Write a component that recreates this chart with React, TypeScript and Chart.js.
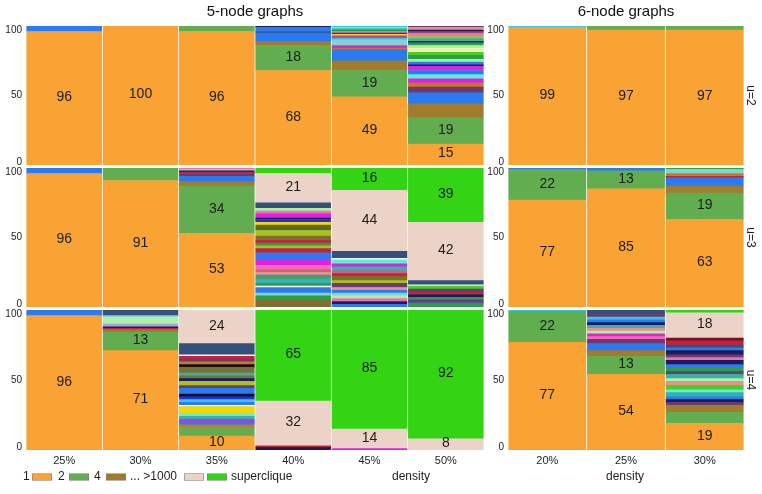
import React, { useEffect, useRef } from 'react';
import { Chart, registerables } from 'chart.js';

Chart.register(...registerables);

type Seg = [string, number]; // [cluster-count class, percent of graphs]

const FONT = "'Liberation Sans', Arial, Helvetica, sans-serif";

// ---------- categories / labels ----------
const CATS_5 = ['25%', '30%', '35%', '40%', '45%', '50%'];
const CATS_6 = ['20%', '25%', '30%'];
const Y_TICKS = [0, 50, 100];
const PANEL_TITLES = ['5-node graphs', '6-node graphs'];
const ROW_LABELS = ['u=2', 'u=3', 'u=4'];
const X_TITLE = 'density';
const LEGEND_KEYS = ['1', '2', '4', '>1000', 'superclique'];
const LEGEND_TEXT = ['1', '2', '4', '... >1000', 'superclique'];
const LABELLED_KEYS = ['1', '2', '>1000', 'superclique'];

// ---------- data: each bar is a list of segments, bottom to top ----------
const U2_N5: Seg[][] = [
  [['1', 96], ['3', 4]],
  [['1', 100]],
  [['1', 96], ['2', 4]],
  [['1', 68], ['2', 18], ['4', 3], ['3', 6], ['navy', 1], ['3', 3], ['dnavy', 1]],
  [['1', 49], ['2', 19], ['4', 7], ['3', 8], ['obrown', 1], ['magenta', 2], ['lteal', 3], ['lblue', 1], ['cyan', 1], ['green', 1], ['magenta', 1], ['yellow', 1], ['dblue', 1], ['pink', 1], ['green', 1], ['teal', 1], ['aqua', 1], ['cyan', 1]],
  [['1', 15], ['2', 19], ['4', 10], ['3', 8], ['purple', 4], ['obrown', 3], ['magenta', 3], ['aqua', 3], ['3', 3], ['magenta', 3], ['dnavy', 1], ['3', 2], ['lgreen', 2], ['green', 3], ['bgreen', 2], ['pyellow', 3], ['lgreen', 2], ['green', 2], ['dnavy', 1], ['teal', 2], ['ygreen', 2], ['pink', 2], ['purple', 1], ['dnavy', 1], ['salmon', 2], ['purple', 1]],
];

const U3_N5: Seg[][] = [
  [['1', 96], ['3', 4]],
  [['1', 91], ['2', 9]],
  [['1', 53], ['2', 34], ['4', 3], ['3', 4], ['purple', 2], ['red', 1], ['dnavy', 1], ['lteal', 1], ['pink', 1]],
  [['olive', 5], ['green', 3], ['lteal', 2], ['3', 4], ['white', 1], ['green', 2], ['teal', 3], ['sea', 3], ['salmon', 2], ['rose', 2], ['pink', 3], ['magenta', 4], ['3', 5], ['red', 3], ['ygreen', 2], ['green', 2], ['red', 2], ['olive', 3], ['ygreen', 4], ['dolive', 4], ['yellow', 2], ['dblue', 2], ['dnavy', 1], ['magenta', 3], ['pink', 2], ['lgreen', 2], ['navy', 4], ['>1000', 21], ['superclique', 4]],
  [['3', 2], ['dnavy', 2], ['pink', 2], ['lgreen', 2], ['lteal', 2], ['3', 2], ['salmon', 2], ['purple', 3], ['ygreen', 2], ['olive', 3], ['red', 2], ['rose', 2], ['teal', 3], ['magenta', 2], ['aqua', 3], ['white', 1], ['navy', 5], ['>1000', 44], ['superclique', 16]],
  [['green', 2], ['3', 1], ['purple', 2], ['green', 2], ['dnavy', 2], ['red', 2], ['purple', 2], ['bgreen', 2], ['white', 1], ['navy', 3], ['>1000', 42], ['superclique', 39]],
];

const U4_N5: Seg[][] = [
  [['1', 96], ['3', 4]],
  [['1', 71], ['2', 13], ['4', 2], ['red', 1], ['dnavy', 1], ['lav', 2], ['lgreen', 5], ['lblue', 1], ['navy', 4]],
  [['1', 10], ['2', 6], ['obrown', 2], ['3', 2], ['magenta', 2], ['teal', 2], ['aqua', 2], ['yellow', 5], ['white', 1], ['3', 2], ['cyan', 2], ['dblue', 2], ['black', 2], ['3', 4], ['purple', 2], ['ygreen', 3], ['dnavy', 2], ['olive', 2], ['teal', 2], ['olive', 4], ['black', 2], ['obrown', 2], ['purple', 2], ['red', 2], ['white', 1], ['navy', 8], ['>1000', 24]],
  [['dnavy', 2], ['red', 1], ['>1000', 32], ['superclique', 65]],
  [['magenta', 1], ['>1000', 14], ['superclique', 85]],
  [['>1000', 8], ['superclique', 92]],
];

const U2_N6: Seg[][] = [
  [['1', 99], ['cyan', 1]],
  [['1', 97], ['2', 3]],
  [['1', 97], ['2', 3]],
];

const U3_N6: Seg[][] = [
  [['1', 77], ['2', 22], ['3', 1]],
  [['1', 85], ['2', 13], ['3', 2]],
  [['1', 63], ['2', 19], ['4', 5], ['3', 6], ['red', 1], ['obrown', 2], ['lteal', 3], ['green', 1]],
];

const U4_N6: Seg[][] = [
  [['1', 77], ['2', 22], ['cyan', 1]],
  [['1', 54], ['2', 13], ['4', 4], ['3', 5], ['purple', 3], ['pink', 2], ['magenta', 2], ['lgreen', 2], ['salmon', 2], ['teal', 2], ['dnavy', 2], ['3', 2], ['cyan', 2], ['purple', 2], ['navy', 3]],
  [['1', 19], ['2', 8], ['4', 5], ['purple', 2], ['dnavy', 2], ['3', 2], ['teal', 3], ['aqua', 2], ['bgreen', 3], ['salmon', 3], ['lgreen', 2], ['teal', 3], ['purple', 2], ['green', 3], ['3', 2], ['dnavy', 3], ['pink', 2], ['purple', 2], ['dnavy', 3], ['3', 2], ['navy', 2], ['red', 3], ['maroon', 2], ['>1000', 18], ['superclique', 2]],
];

// ---------- styles ----------
const COLORS: Record<string, string> = {
  '1': '#F9A334', '2': '#61AD50', '3': '#2A7BF2', '4': '#A17C2C', '>1000': '#ECD3C7', superclique: '#33D414',
  navy: '#34507C', dnavy: '#1C1C5C', purple: '#6B3B6E', magenta: '#E022E0', pink: '#F06EB0', red: '#C8203C',
  salmon: '#E8908A', rose: '#D06080', teal: '#3AAFB0', aqua: '#5EF0D6', lteal: '#7FD6CE', cyan: '#33C9E8',
  lblue: '#8CC8F0', lgreen: '#A8F2A0', green: '#2E9E40', bgreen: '#44D022', ygreen: '#A8C020', yellow: '#F0D800',
  pyellow: '#F2F0B4', olive: '#7A7030', dolive: '#5A6A22', obrown: '#C87A20', black: '#121222', white: '#F6F6F6',
  lav: '#A4A4E4', maroon: '#701424', sea: '#3FA07E', dblue: '#2032E0',
};
const TEXT = '#1e1e1e';

// ---------- layout ----------
const COLS = [
  { x: 0, w: 490, padL: 26, padR: 6 },
  { x: 486, w: 276, padL: 22, padR: 18 },
];
const ROWS = [
  { y: 0, h: 171, padT: 0, padB: 6 },
  { y: 162, h: 151, padT: 6, padB: 6 },
  { y: 304, h: 190, padT: 6, padB: 24 },
];
const DATA = [
  [U2_N5, U2_N6],
  [U3_N5, U3_N6],
  [U4_N5, U4_N6],
];

interface Spec {
  row: number;
  col: number;
  cats: string[];
  bars: Seg[][];
}

function facetPlugin(spec: Spec) {
  const col = COLS[spec.col];
  const row = ROWS[spec.row];
  return {
    id: 'facetText' + spec.row + spec.col,
    afterDraw(chart: any) {
      const ctx = chart.ctx as CanvasRenderingContext2D;
      const area = chart.chartArea;
      const yScale = chart.scales.y;
      ctx.save();
      ctx.fillStyle = TEXT;
      // y tick labels
      ctx.font = `10px ${FONT}`;
      ctx.textAlign = 'right';
      ctx.textBaseline = 'middle';
      Y_TICKS.forEach((v) => {
        const off = v === 100 ? 4 : v === 0 ? -3 : 0;
        ctx.fillText(String(v), area.left - 4, yScale.getPixelForValue(v) + off);
      });
      // value labels inside segments
      ctx.font = `14px ${FONT}`;
      ctx.textAlign = 'center';
      chart.data.datasets.forEach((ds: any, i: number) => {
        const meta = chart.getDatasetMeta(i);
        meta.data.forEach((el: any, j: number) => {
          const v = ds.data[j];
          const k = ds.keys[j];
          if (v == null || !LABELLED_KEYS.includes(k)) return;
          if (!(v >= 10 || (k === '>1000' && v >= 5))) return;
          ctx.fillText(String(v), el.x, (el.y + el.base) / 2 - 1);
        });
      });
      // strip label on the right
      if (spec.col === 1) {
        ctx.font = `12px ${FONT}`;
        ctx.save();
        ctx.translate(750 - col.x, (area.top + area.bottom) / 2);
        ctx.rotate(Math.PI / 2);
        ctx.textAlign = 'center';
        ctx.textBaseline = 'middle';
        ctx.fillText(ROW_LABELS[spec.row], 0, 0);
        ctx.restore();
      }
      // bottom texts: axis title and legend
      if (spec.row === 2) {
        const yy = 477 - row.y;
        ctx.font = `12px ${FONT}`;
        ctx.textBaseline = 'middle';
        ctx.textAlign = 'center';
        ctx.fillText(X_TITLE, (spec.col === 0 ? 411 : 625) - col.x, yy);
        if (spec.col === 0) {
          const textX = [23, 58, 94, 130, 231];
          const swX = [32, 69, 106, 184, 207];
          ctx.textAlign = 'left';
          LEGEND_KEYS.forEach((k, i) => {
            ctx.fillStyle = TEXT;
            ctx.fillText(LEGEND_TEXT[i], textX[i], yy);
            ctx.fillStyle = COLORS[k];
            ctx.fillRect(swX[i], yy - 3, 20, 6);
            ctx.strokeStyle = 'rgba(120,120,120,0.55)';
            ctx.lineWidth = 1;
            ctx.strokeRect(swX[i] + 0.5, yy - 3.5, 19, 7);
          });
        }
      }
      ctx.restore();
    },
  };
}

function Facet({ spec }: { spec: Spec }) {
  const ref = useRef<HTMLCanvasElement>(null);
  const col = COLS[spec.col];
  const row = ROWS[spec.row];
  useEffect(() => {
    const canvas = ref.current;
    if (!canvas) return;
    const { bars, cats } = spec;
    const n = Math.max(...bars.map((b) => b.length));
    const datasets: any[] = [];
    for (let i = 0; i < n; i++) {
      datasets.push({
        data: bars.map((b) => (b[i] ? b[i][1] : null)),
        keys: bars.map((b) => (b[i] ? b[i][0] : null)),
        backgroundColor: bars.map((b) => (b[i] ? COLORS[b[i][0]] : 'rgba(0,0,0,0)')),
        borderWidth: 0,
        barPercentage: 0.982,
        categoryPercentage: 1,
        inflateAmount: 0.3,
      });
    }
    const showX = spec.row === 2;
    const chart = new Chart(canvas, {
      type: 'bar',
      data: { labels: cats, datasets },
      options: {
        responsive: false,
        animation: false,
        events: [],
        devicePixelRatio: 1,
        layout: { padding: { left: col.padL, right: col.padR, top: row.padT, bottom: row.padB } },
        plugins: {
          legend: { display: false },
          tooltip: { enabled: false },
          title: spec.row === 0
            ? {
                display: true,
                text: PANEL_TITLES[spec.col],
                fullSize: false,
                color: '#111',
                font: { family: FONT, size: 15, weight: 'normal' },
                padding: { top: 3, bottom: 5 },
              }
            : { display: false },
        },
        scales: {
          x: {
            stacked: true,
            display: showX,
            grid: { display: false, drawTicks: false },
            border: { display: false },
            ticks: { font: { family: FONT, size: 11 }, color: TEXT, padding: 4, maxRotation: 0, autoSkip: false },
            afterFit: (s: any) => { s.height = showX ? 20 : 0; },
          },
          y: { stacked: true, min: 0, max: 100, display: false },
        },
      } as any,
      plugins: [facetPlugin(spec)],
    });
    return () => chart.destroy();
  }, []);
  return (
    <canvas
      ref={ref}
      width={col.w}
      height={row.h}
      style={{ position: 'absolute', left: col.x, top: row.y, width: col.w, height: row.h, display: 'block' }}
    />
  );
}

export default function App() {
  const specs: Spec[] = [];
  for (let r = 0; r < 3; r++) {
    for (let c = 0; c < 2; c++) {
      specs.push({ row: r, col: c, cats: c === 0 ? CATS_5 : CATS_6, bars: DATA[r][c] });
    }
  }
  return (
    <div style={{ position: 'absolute', left: 0, top: 0, width: 762, height: 494, background: '#fff', overflow: 'hidden' }}>
      {specs.map((s) => (
        <Facet key={`${s.row}-${s.col}`} spec={s} />
      ))}
    </div>
  );
}
